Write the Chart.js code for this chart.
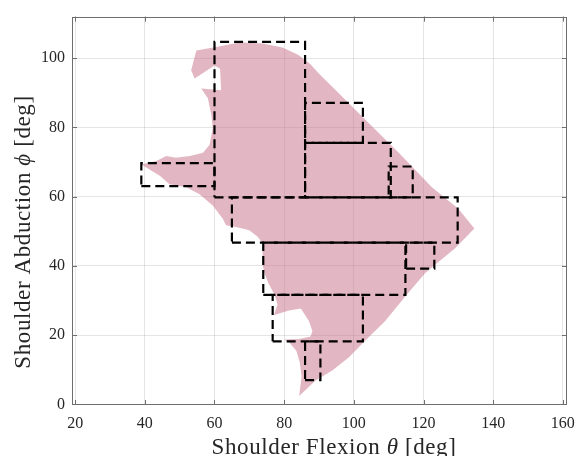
<!DOCTYPE html>
<html>
<head>
<meta charset="utf-8">
<script src="https://cdn.jsdelivr.net/npm/chart.js@4.4.1/dist/chart.umd.min.js"></script>
<style>
  html, body { margin: 0; padding: 0; background: #fff; }
</style>
</head>
<body>
<canvas id="myChart" width="584" height="456"></canvas>
<script>
// REACHABLE REGION (outline, deg)

const regionX = [39, 43.3, 46.2, 49, 52.9, 56.7, 58.6, 59.5, 59.1, 58.1, 56.2, 61.9, 61.6, 60, 54.3, 53.3,
  54.8, 60.5, 67.1, 73.8, 79.5, 84, 87.5, 90, 93.8, 103.3, 112.9, 122.4, 130, 134.6, 129, 123.3, 120.5,
  114.8, 109, 103.3, 98.6, 93.8, 89, 84.3, 85, 84.5, 83.5, 81.4, 80, 84.3, 87.6, 88.1, 87.1, 84.8, 81.4,
  77.1, 78.1, 77.3, 75.5, 74.5, 73.8, 73.8, 72.4, 70, 66.2, 63.3, 62.4, 59.5, 55.7, 51.9, 47.1, 44.3, 39];
const regionY = [69.3, 70.3, 71.7, 71.2, 71.7, 72.7, 75, 79.8, 83.6, 88.4, 91.2, 90.7, 96.9, 97.9, 94.1, 96.5,
  102.2, 103.2, 104.5, 104.2, 103.1, 101, 98.3, 95.5, 91.7, 82.2, 72.7, 62.7, 56.5, 50.8, 45, 40.3, 37.9,
  31.2, 24.1, 18.4, 13.6, 9.8, 6.9, 2.4, 8, 12, 15.5, 17.9, 18.7, 18.9, 19.6, 21.2, 24.1, 27.7, 27.1,
  25.8, 28.9, 31.5, 35, 37.5, 40.3, 46.5, 48.4, 50.3, 51.2, 51.7, 53.6, 57.4, 60.7, 62.7, 63.6, 66, 69.3];

// DASHED BOXES (flexion from-to, abduction from-to)

const boxX0 = [60, 39, 86, 86, 110, 65, 74, 115, 76.7, 86];
const boxX1 = [86, 60, 102.6, 110.6, 116.9, 129.8, 114.8, 123.1, 102.6, 90.4];
const boxY0 = [59.8, 63, 75.5, 59.8, 59.8, 46.7, 31.6, 39.2, 18.2, 7];
const boxY1 = [104.7, 69.7, 87.1, 75.5, 68.7, 59.8, 46.7, 46.7, 31.6, 18.2];

// AXIS TICKS + LABELS

const xTicks = [20, 40, 60, 80, 100, 120, 140, 160];
const yTicks = [0, 20, 40, 60, 80, 100];
const xTitle = [["Shoulder Flexion ", false], ["θ", true], [" [deg]", false]];
const yTitle = [["Shoulder Abduction ", false], ["ϕ", true], [" [deg]", false]];

const serif = "'Liberation Serif', 'Times New Roman', serif";
const axisGray = "#6e6e6e";
const textColor = "#262626";

let datasets = [];
for (let i = 0; i < boxX0.length; i++) {
  datasets.push({
    label: "box " + (i + 1),
    data: [
      { x: boxX0[i], y: boxY0[i] },
      { x: boxX1[i], y: boxY0[i] },
      { x: boxX1[i], y: boxY1[i] },
      { x: boxX0[i], y: boxY1[i] },
      { x: boxX0[i], y: boxY0[i] },
    ],
    showLine: true,
    borderColor: "#000",
    borderWidth: 2.2,
    borderDash: [9, 5],
    pointRadius: 0,
    fill: false,
    tension: 0,
    order: 0,
  });
}

datasets.push({
  label: "region",
  data: regionX.map((x, i) => ({ x: x, y: regionY[i] })),
  showLine: true,
  borderWidth: 0,
  borderColor: "transparent",
  backgroundColor: "rgba(200,110,135,0.5)",
  pointRadius: 0,
  fill: "shape",
  tension: 0,
  order: 5,
});

// box frame + inward ticks like the original figure
const frame = {
  id: "frame",
  afterDatasetsDraw(chart) {
    const { ctx, chartArea: a, scales } = chart;
    ctx.save();
    ctx.strokeStyle = axisGray;
    ctx.lineWidth = 1;
    ctx.strokeRect(Math.round(a.left) + 0.5, Math.round(a.top) + 0.5,
      Math.round(a.right - a.left) - 1, Math.round(a.bottom - a.top) - 1);
    ctx.beginPath();
    xTicks.forEach((v) => {
      const px = Math.round(scales.x.getPixelForValue(v)) + 0.5;
      ctx.moveTo(px, a.bottom); ctx.lineTo(px, a.bottom - 5);
      ctx.moveTo(px, a.top); ctx.lineTo(px, a.top + 5);
    });
    yTicks.forEach((v) => {
      const py = Math.round(scales.y.getPixelForValue(v)) + 0.5;
      ctx.moveTo(a.left, py); ctx.lineTo(a.left + 5, py);
      ctx.moveTo(a.right, py); ctx.lineTo(a.right - 5, py);
    });
    ctx.stroke();
    ctx.restore();
  },
};

// axis titles with italic greek letter (latex style in the original)
function drawTitle(c, parts, cx, base, rot) {
  c.save();
  c.translate(cx, base);
  c.rotate(rot);
  let total = 0;
  parts.forEach((p) => {
    c.font = (p[1] ? "italic " : "") + "23px " + serif;
    total += c.measureText(p[0]).width;
  });
  let x = -total / 2;
  parts.forEach((p) => {
    c.font = (p[1] ? "italic " : "") + "23px " + serif;
    c.fillText(p[0], x, 0);
    x += c.measureText(p[0]).width;
  });
  c.restore();
}

const axisTitles = {
  id: "axisTitles",
  afterDraw(chart) {
    const c = chart.ctx;
    c.save();
    c.fillStyle = textColor;
    c.textBaseline = "alphabetic";
    c.textAlign = "left";
    c.letterSpacing = "0.6px";
    drawTitle(c, xTitle, 334, 454, 0);
    drawTitle(c, yTitle, 30, 232, -Math.PI / 2);
    c.restore();
  },
};

const ctx = document.getElementById("myChart");

new Chart(ctx, {
  type: "scatter",
  data: { datasets: datasets },
  options: {
    responsive: false,
    animation: false,
    layout: { padding: { top: 12, right: 15, left: 0, bottom: 0 } },
    plugins: {
      legend: { display: false },
      tooltip: { enabled: false },
    },
    scales: {
      x: {
        type: "linear",
        min: 19.1,
        max: 161.2,
        afterBuildTicks: (scale) => { scale.ticks = xTicks.map((v) => ({ value: v })); },
        afterFit: (scale) => { scale.height = 51; },
        grid: { color: "rgba(0,0,0,0.1)", drawTicks: false },
        border: { display: false },
        ticks: { color: textColor, padding: 9, maxRotation: 0, font: { family: serif, size: 16 } },
      },
      y: {
        type: "linear",
        min: -0.2,
        max: 112,
        afterBuildTicks: (scale) => { scale.ticks = yTicks.map((v) => ({ value: v })); },
        afterFit: (scale) => { scale.width = 72; },
        grid: { color: "rgba(0,0,0,0.1)", drawTicks: false },
        border: { display: false },
        ticks: { color: textColor, padding: 7, font: { family: serif, size: 16 } },
      },
    },
  },
  plugins: [frame, axisTitles],
});
</script>
</body>
</html>
